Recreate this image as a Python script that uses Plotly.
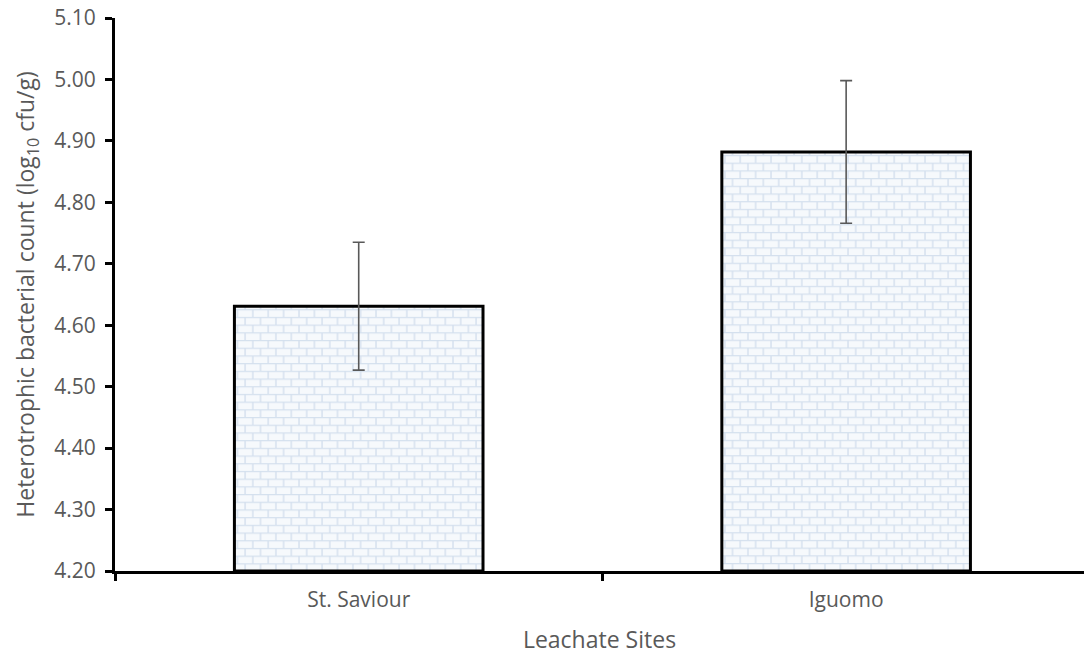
import base64
import plotly.graph_objects as go

# Data
sites = ["St. Saviour", "Iguomo"]
mean_counts = [4.631, 4.882]
std_errors = [0.104, 0.116]

y_min, y_max = 4.20, 5.10
x_range = [-0.5, 1.488]
bar_width = 0.51

W, H = 1084, 655
margin = dict(l=115, r=0, t=18, b=84)
plot_w = W - margin["l"] - margin["r"]
plot_h = H - margin["t"] - margin["b"]
FONT = "'Open Sans', 'Noto Sans', sans-serif"
GREY = "#595959"


def brick_svg(px_w, px_h):
    """Light brick fill used inside each bar."""
    svg = f'''<svg xmlns="http://www.w3.org/2000/svg" width="{px_w:.0f}" height="{px_h:.0f}"
viewBox="0 0 {px_w:.1f} {px_h:.1f}" preserveAspectRatio="none">
<defs><pattern id="b" width="15.4" height="15.4" patternUnits="userSpaceOnUse" x="2" y="3">
<rect width="15.4" height="15.4" fill="#f6f9fc"/>
<path d="M0 0.6H15.4M0 8.3H15.4M1 0V7.7M8.7 7.7V15.4" stroke="#d4e0ee" stroke-width="1.4" fill="none"/>
</pattern></defs>
<rect width="100%" height="100%" fill="url(#b)"/></svg>'''
    return "data:image/svg+xml;base64," + base64.b64encode(svg.encode()).decode()


fig = go.Figure()
fig.add_trace(go.Bar(
    x=sites,
    y=[m - y_min for m in mean_counts],
    base=y_min,
    width=bar_width,
    marker=dict(color="rgba(0,0,0,0)", line=dict(color="black", width=3)),
    error_y=dict(type="data", array=std_errors, visible=True,
                 color=GREY, thickness=1.6, width=6),
    hoverinfo="skip",
))

images = []
px_per_x = plot_w / (x_range[1] - x_range[0])
px_per_y = plot_h / (y_max - y_min)
for i, m in enumerate(mean_counts):
    images.append(dict(
        source=brick_svg(bar_width * px_per_x, (m - y_min) * px_per_y),
        xref="x", yref="y",
        x=i - bar_width / 2, y=m,
        sizex=bar_width, sizey=m - y_min,
        sizing="stretch", xanchor="left", yanchor="top",
        layer="below",
    ))

fig.update_layout(
    width=W, height=H,
    margin=margin,
    paper_bgcolor="white",
    plot_bgcolor="white",
    showlegend=False,
    images=images,
    font=dict(family=FONT, color=GREY),
    xaxis=dict(
        type="category",
        range=x_range,
        tickson="boundaries",
        ticks="outside", ticklen=7, tickwidth=3, tickcolor="black",
        ticklabelstandoff=8,
        showline=True, linecolor="black", linewidth=3,
        showgrid=False, zeroline=False,
        tickfont=dict(family=FONT, size=21, color=GREY),
        title=dict(text="Leachate Sites", font=dict(family=FONT, size=23, color=GREY), standoff=22),
    ),
    yaxis=dict(
        range=[y_min, y_max],
        dtick=0.1, tick0=y_min, tickformat=".2f",
        ticks="outside", ticklen=7, tickwidth=3, tickcolor="black",
        ticklabelstandoff=5,
        showline=True, linecolor="black", linewidth=3,
        showgrid=False, zeroline=False,
        tickfont=dict(family=FONT, size=21, color=GREY),
        title=dict(text="Heterotrophic bacterial count (log<sub>10</sub> cfu/g)",
                   font=dict(family=FONT, size=23, color=GREY), standoff=14),
    ),
)

fig.write_html("out.html")
